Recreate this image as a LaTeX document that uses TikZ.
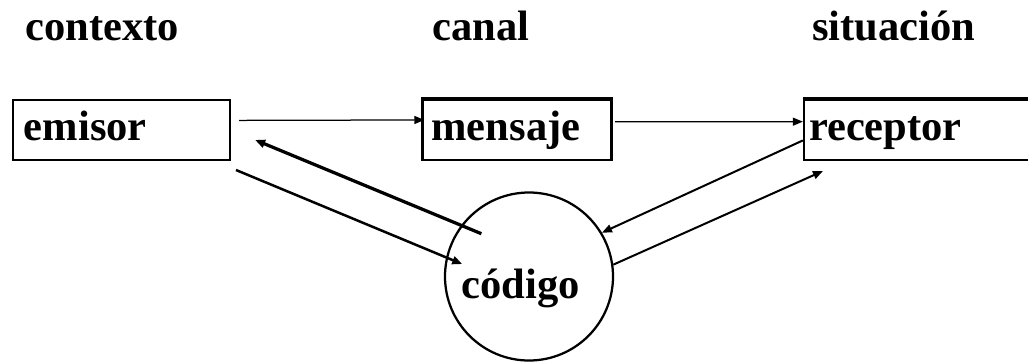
\documentclass[tikz,border=0pt]{standalone}
\usepackage{fontspec}
\setmainfont{Liberation Serif}
\usetikzlibrary{arrows.meta}

\tikzset{
  box/.style={draw, line width=0.045cm, minimum height=1.2cm, text height=0.52cm, text depth=0.12cm, align=left},
  link/.style={-{Triangle[length=0.2cm,width=0.16cm]}},
}

\begin{document}
\begin{tikzpicture}[scale=0.2]
\tikzstyle{every node}+=[inner sep=0pt, font=\fontsize{24.2}{28}\selectfont\bfseries]
\useasboundingbox (0,0) rectangle (102.8,-36.1);
\clip (0,0) rectangle (102.8,-36.1);
\draw (2.5,-4) node[anchor=base west] (contexto) {contexto};
\draw (43.2,-4) node[anchor=base west] (canal) {canal};
\draw (81.2,-4) node[anchor=base west] (situacion) {situación};
\draw (12.15,-13) node[box, minimum width=4.34cm, text width=3.9cm, inner xsep=0.22cm] (emisor) {emisor};
\draw (51.7,-13) node[box, minimum width=3.78cm, text width=3.42cm, inner xsep=0.18cm] (mensaje) {mensaje};
\draw (92.2,-13) node[box, minimum width=4.72cm, text width=4.52cm, inner xsep=0.1cm] (receptor) {receptor};
\draw [line width=0.075cm] (mensaje.north west) -- (mensaje.north east);
\draw [line width=0.075cm] (receptor.north west) -- (receptor.north east);
\draw (52.9,-27.65) node[circle, draw, line width=0.045cm, minimum size=3.36cm, text width=2.7cm, align=left, text height=0.95cm, text depth=0.09cm] (codigo) {código};
\coordinate (e1) at (23.6,-17);
\coordinate (r1) at (82.3,-17.1);
\draw [link, line width=0.025cm, shorten <=0.16cm, shorten >=-0.06cm] (emisor.5) -- (mensaje.174);
\draw [link, line width=0.025cm, shorten <=0.05cm] (mensaje.5) -- (receptor.176);
\draw [link, line width=0.065cm, shorten <=-0.44cm, shorten >=0.52cm] (codigo.143) -- (emisor.east);
\draw [link, line width=0.05cm, shorten >=-0.35cm] (e1) -- (codigo.167);
\draw [link, line width=0.04cm] (receptor.185) -- (codigo.31);
\draw [link, line width=0.04cm] (codigo.8) -- (r1);
\end{tikzpicture}
\end{document}
